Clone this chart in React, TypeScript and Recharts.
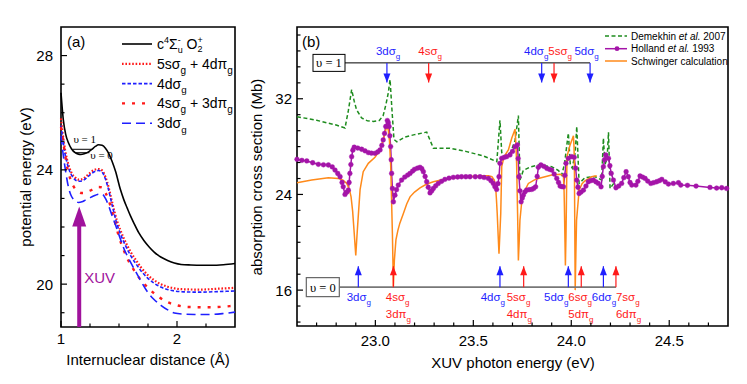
import React from "react";
import { LineChart, Line, XAxis, YAxis, ReferenceArea, ReferenceLine, ReferenceDot } from "recharts";

// ---------- panel (a): potential energy curves, [distance (Å), energy (eV)]
const ionCurve = [
  [1.0, 26.7], [1.02, 25.75], [1.04, 25.25], [1.064, 24.95], [1.09, 24.74], [1.122, 24.6], [1.15, 24.55],
  [1.17, 24.54], [1.2, 24.56], [1.237, 24.63], [1.267, 24.72], [1.296, 24.82], [1.325, 24.88], [1.354, 24.86],
  [1.383, 24.76], [1.411, 24.58], [1.44, 24.3], [1.47, 23.95], [1.513, 23.3], [1.542, 22.95], [1.571, 22.66],
  [1.6, 22.38], [1.629, 22.13], [1.67, 21.8], [1.716, 21.52], [1.76, 21.3], [1.803, 21.12], [1.86, 20.95],
  [1.919, 20.83], [1.977, 20.74], [2.035, 20.69], [2.12, 20.67], [2.209, 20.66], [2.3, 20.66], [2.4, 20.68], [2.5, 20.72],
];
const ryd5s4d = [
  [1.0, 25.8], [1.02, 25.1], [1.035, 24.7], [1.05, 24.4], [1.07, 24.1], [1.093, 23.88], [1.12, 23.74], [1.151, 23.66],
  [1.18, 23.67], [1.209, 23.74], [1.238, 23.85], [1.267, 23.95], [1.296, 24.01], [1.325, 24.03], [1.354, 23.98],
  [1.383, 23.75], [1.41, 23.4], [1.44, 22.88], [1.484, 22.2], [1.513, 21.88], [1.542, 21.6], [1.571, 21.35], [1.6, 21.13],
  [1.645, 20.85], [1.687, 20.6], [1.745, 20.33], [1.803, 20.14], [1.86, 20.0], [1.919, 19.91], [1.98, 19.85],
  [2.06, 19.82], [2.2, 19.81], [2.354, 19.84], [2.5, 19.87],
];
const ryd4d = [
  [1.0, 25.55], [1.02, 24.95], [1.035, 24.55], [1.05, 24.28], [1.07, 24.0], [1.093, 23.8], [1.12, 23.66], [1.151, 23.6],
  [1.18, 23.61], [1.209, 23.68], [1.238, 23.78], [1.267, 23.88], [1.296, 23.95], [1.325, 23.98], [1.354, 23.92],
  [1.383, 23.68], [1.41, 23.3], [1.44, 22.78], [1.484, 22.08], [1.513, 21.75], [1.542, 21.47], [1.571, 21.22], [1.6, 21.0],
  [1.645, 20.72], [1.687, 20.48], [1.745, 20.22], [1.803, 20.03], [1.86, 19.9], [1.919, 19.81], [1.98, 19.76],
  [2.06, 19.73], [2.2, 19.72], [2.354, 19.74], [2.5, 19.76],
];
const ryd4s3d = [
  [1.0, 25.5], [1.02, 24.95], [1.035, 24.54], [1.05, 24.15], [1.078, 23.71], [1.1, 23.48], [1.122, 23.34], [1.15, 23.24],
  [1.18, 23.19], [1.209, 23.2], [1.237, 23.25], [1.267, 23.3], [1.296, 23.35], [1.325, 23.4], [1.354, 23.38],
  [1.383, 23.2], [1.41, 22.95], [1.44, 22.55], [1.47, 22.1], [1.5, 21.65], [1.535, 21.25], [1.571, 20.9], [1.615, 20.58],
  [1.658, 20.31], [1.715, 20.02], [1.774, 19.78], [1.84, 19.56], [1.919, 19.37], [2.0, 19.26], [2.093, 19.2],
  [2.267, 19.19], [2.455, 19.23], [2.5, 19.25],
];
const ryd3d = [
  [1.0, 25.2], [1.02, 24.5], [1.04, 23.95], [1.064, 23.4], [1.085, 23.12], [1.107, 22.97], [1.13, 22.89], [1.15, 22.86],
  [1.18, 22.88], [1.21, 22.94], [1.24, 23.0], [1.267, 23.06], [1.296, 23.11], [1.325, 23.15], [1.354, 23.15],
  [1.383, 23.0], [1.41, 22.75], [1.44, 22.4], [1.47, 22.07], [1.506, 21.65], [1.542, 21.25], [1.585, 20.88], [1.629, 20.55],
  [1.687, 20.12], [1.745, 19.73], [1.8, 19.47], [1.861, 19.26], [1.92, 19.1], [1.977, 18.99], [2.06, 18.95],
  [2.15, 18.94], [2.29, 18.94], [2.4, 18.97], [2.5, 19.02],
];
const aXTicks = [1, 1.25, 1.5, 1.75, 2, 2.25];
const aXMajor = [1, 2];
const aYTicks = [19, 20, 21, 22, 23, 24, 25, 26, 27, 28];
const aYMajor = [20, 24, 28];

// ---------- panel (b): cross sections, [photon energy (eV), cross section (Mb)]
const demekhin = [
  [22.6, 30.5], [22.7, 30.2], [22.8, 29.8], [22.845, 29.55], [22.862, 31.0], [22.879, 32.76], [22.892, 31.8],
  [22.904, 31.08], [22.93, 30.39], [22.96, 30.15], [22.99, 30.1], [23.02, 30.18], [23.04, 30.6], [23.055, 31.6],
  [23.066, 32.5], [23.075, 33.6], [23.085, 31.0], [23.095, 28.6], [23.11, 28.4], [23.15, 28.8], [23.2, 29.0],
  [23.262, 29.21], [23.296, 27.87], [23.38, 27.87], [23.466, 27.58], [23.551, 27.22], [23.62, 26.74], [23.636, 30.2],
  [23.645, 27.5], [23.66, 27.2], [23.69, 27.5], [23.713, 28.5], [23.73, 30.6], [23.738, 25.2], [23.755, 26.0],
  [23.79, 26.3], [23.832, 26.46], [23.9, 26.32], [23.935, 26.0], [23.951, 25.62], [23.965, 26.5], [23.985, 29.13],
  [23.995, 26.5], [24.005, 26.2], [24.02, 27.5], [24.028, 29.68], [24.04, 24.92], [24.07, 25.4], [24.12, 25.5],
  [24.155, 25.2], [24.164, 28.7], [24.172, 26.5], [24.183, 27.0], [24.19, 29.2], [24.198, 24.5], [24.22, 25.0],
];
const holland = [
  [22.6, 26.94], [22.625, 26.85], [22.65, 26.8], [22.68, 26.65], [22.709, 26.52], [22.735, 26.48], [22.76, 26.46],
  [22.78, 26.3], [22.794, 26.04], [22.808, 25.75], [22.82, 25.48], [22.83, 25.0], [22.836, 24.64], [22.845, 24.0],
  [22.855, 24.2], [22.862, 24.36], [22.866, 25.0], [22.87, 25.76], [22.875, 26.5], [22.879, 27.16], [22.885, 27.7],
  [22.892, 27.95], [22.91, 27.88], [22.93, 27.78], [22.947, 27.65], [22.964, 27.5], [22.98, 27.45], [22.998, 27.44],
  [23.012, 27.55], [23.024, 27.72], [23.033, 28.1], [23.04, 28.56], [23.047, 29.1], [23.053, 29.68], [23.061, 30.18],
  [23.066, 30.0], [23.07, 29.68], [23.074, 28.9], [23.078, 28.0], [23.081, 26.9], [23.083, 25.76], [23.087, 24.5],
  [23.092, 23.38], [23.1, 23.94], [23.108, 24.4], [23.117, 24.78], [23.134, 25.2], [23.15, 25.45], [23.165, 25.62],
  [23.177, 25.76], [23.19, 25.95], [23.2, 26.1], [23.215, 26.2], [23.228, 26.27], [23.237, 26.15], [23.245, 25.9],
  [23.254, 25.5], [23.262, 25.06], [23.27, 24.6], [23.279, 24.13], [23.288, 24.3], [23.296, 24.5], [23.308, 24.72],
  [23.321, 24.92], [23.338, 25.1], [23.355, 25.26], [23.376, 25.36], [23.398, 25.43], [23.42, 25.46], [23.44, 25.48],
  [23.462, 25.48], [23.483, 25.48], [23.51, 25.48], [23.534, 25.48], [23.555, 25.42], [23.577, 25.34], [23.59, 25.15],
  [23.602, 24.92], [23.61, 24.65], [23.619, 24.42], [23.626, 24.9], [23.631, 25.48], [23.636, 26.6], [23.645, 27.02],
  [23.658, 27.1], [23.67, 27.16], [23.687, 27.3], [23.7, 27.6], [23.713, 28.0], [23.725, 28.14], [23.729, 27.0],
  [23.733, 25.48], [23.738, 24.3], [23.744, 23.38], [23.75, 23.7], [23.755, 23.94], [23.763, 24.2], [23.772, 24.36],
  [23.785, 24.4], [23.798, 24.42], [23.808, 24.5], [23.818, 24.64], [23.826, 25.5], [23.832, 26.27], [23.845, 26.46],
  [23.86, 26.35], [23.875, 26.18], [23.888, 26.1], [23.9, 26.04], [23.913, 25.7], [23.926, 25.34], [23.935, 25.0],
  [23.943, 24.7], [23.952, 24.66], [23.96, 24.64], [23.967, 25.6], [23.973, 26.6], [23.985, 27.02], [24.002, 27.16],
  [24.015, 27.1], [24.022, 26.2], [24.028, 25.2], [24.034, 24.6], [24.04, 24.08], [24.05, 24.2], [24.062, 24.36],
  [24.075, 24.7], [24.087, 25.06], [24.1, 25.15], [24.113, 25.2], [24.126, 25.05], [24.138, 24.92], [24.152, 24.64],
  [24.158, 25.5], [24.164, 26.32], [24.17, 26.9], [24.176, 27.3], [24.19, 27.02], [24.197, 26.4], [24.204, 25.76],
  [24.215, 25.2], [24.228, 24.56], [24.242, 24.7], [24.257, 24.92], [24.268, 25.4], [24.28, 25.9], [24.291, 25.48],
  [24.3, 25.0], [24.309, 24.78], [24.33, 24.78], [24.34, 25.1], [24.351, 25.54], [24.364, 25.45], [24.377, 25.34],
  [24.39, 25.12], [24.406, 24.92], [24.42, 24.98], [24.436, 25.06], [24.45, 25.15], [24.462, 25.26], [24.48, 25.05],
  [24.496, 24.87], [24.521, 24.92], [24.547, 24.98], [24.559, 24.78], [24.593, 24.76], [24.637, 24.7], [24.708, 24.59],
  [24.742, 24.53], [24.768, 24.56], [24.793, 24.5],
];
const schwinger = [
  [22.6, 24.97], [22.675, 25.2], [22.76, 25.4], [22.81, 25.34], [22.835, 25.2], [22.854, 24.92], [22.868, 24.4],
  [22.876, 23.8], [22.884, 22.6], [22.891, 21.0], [22.9, 18.9], [22.906, 20.5], [22.912, 22.0], [22.922, 24.4],
  [22.938, 25.9], [22.964, 26.6], [22.998, 27.1], [23.024, 27.72], [23.04, 28.56], [23.05, 29.2], [23.058, 29.68],
  [23.066, 29.4], [23.072, 28.5], [23.078, 26.5], [23.082, 24.0], [23.087, 20.72], [23.092, 16.3], [23.097, 18.5],
  [23.105, 20.2], [23.115, 21.0], [23.125, 21.6], [23.143, 22.4], [23.16, 23.2], [23.177, 23.8], [23.2, 24.2],
  [23.228, 24.55], [23.26, 24.85], [23.296, 25.06], [23.34, 25.22], [23.381, 25.34], [23.42, 25.42], [23.466, 25.48],
  [23.534, 25.56], [23.577, 25.56], [23.595, 25.48], [23.607, 25.2], [23.614, 24.64], [23.618, 23.6], [23.622, 22.4],
  [23.627, 20.5], [23.631, 19.04], [23.635, 20.5], [23.64, 22.4], [23.645, 26.32], [23.657, 27.16], [23.679, 27.72],
  [23.696, 28.7], [23.713, 29.46], [23.718, 28.0], [23.721, 26.6], [23.726, 22.4], [23.73, 18.48], [23.734, 20.0],
  [23.738, 21.84], [23.746, 23.2], [23.755, 24.08], [23.781, 24.92], [23.81, 25.2], [23.832, 25.34], [23.9, 25.62],
  [23.943, 25.68], [23.955, 25.6], [23.96, 25.48], [23.963, 24.5], [23.965, 22.96], [23.968, 20.0], [23.97, 18.06],
  [23.973, 20.5], [23.975, 22.96], [23.978, 27.16], [23.994, 28.14], [24.011, 28.9], [24.014, 28.0], [24.016, 26.32],
  [24.018, 21.0], [24.02, 16.0], [24.024, 19.5], [24.027, 21.84], [24.04, 24.36], [24.055, 24.9], [24.07, 25.14],
  [24.104, 25.48], [24.13, 25.56],
];
const bXTicks = [22.7, 22.8, 22.9, 23.0, 23.1, 23.2, 23.3, 23.4, 23.5, 23.6, 23.7, 23.8, 23.9, 24.0, 24.1, 24.2, 24.3, 24.4, 24.5, 24.6, 24.7];
const bXMajor = [23.0, 23.5, 24.0, 24.5];
const bYTicks = [13.33, 14.67, 16, 17.33, 18.67, 20, 21.33, 22.67, 24, 25.33, 26.67, 28, 29.33, 30.67, 32, 33.33, 34.67, 36, 37.33];
const bYMajor = [16, 24, 32];

// Rydberg levels converging to v=1 and v=0
const v1Names = ["3dσ", "4sσ", "4dσ", "5sσ", "5dσ"];
const v1Energy = [23.059, 23.272, 23.849, 23.912, 24.096];
const v0Names = ["3dσ", "4sσ", "4dσ", "5sσ", "5dσ", "6sσ", "6dσ", "7sσ"];
const v0PiNames = ["", "3dπ", "", "4dπ", "", "5dπ", "", "6dπ"];
const v0Energy = [22.913, 23.092, 23.636, 23.757, 23.985, 24.051, 24.164, 24.228];

const pts = (a: number[][]) => a.map(([x, y]) => ({ x, y }));

const BLUE = "#1f1fff";
const RED = "#ff1a1a";
const PURPLE = "#a414a8";
const GREEN = "#1e8c1e";
const ORANGE = "#ff8a1a";
const XUV = "#a0129c";
const lvlColor = (n: string) => (n.includes("dσ") ? BLUE : RED);

const sameVal = (list: number[], v: number) => list.some((m) => Math.abs(m - v) < 1e-3);

const yTick = (majors: number[], gap: number, fmt: (v: number) => string) => (p: any) => {
  const v = p.payload.value;
  const major = sameVal(majors, v);
  const ax = p.x + gap;
  return (
    <g>
      <line x1={ax} x2={ax + (major ? 6 : 3.5)} y1={p.y} y2={p.y} stroke="#000" strokeWidth={1.2} />
      {major && (
        <text x={p.x} y={p.y + 5.5} textAnchor="end" fontSize={15} fill="#000">
          {fmt(v)}
        </text>
      )}
    </g>
  );
};

const xTick = (majors: number[], gap: number, base: number, fmt: (v: number) => string) => (p: any) => {
  const v = p.payload.value;
  const major = sameVal(majors, v);
  const ay = p.y - gap;
  return (
    <g>
      <line x1={p.x} x2={p.x} y1={ay} y2={ay - (major ? 6 : 3.5)} stroke="#000" strokeWidth={1.2} />
      {major && (
        <text x={p.x} y={ay + base} textAnchor="middle" fontSize={15} fill="#000">
          {fmt(v)}
        </text>
      )}
    </g>
  );
};

const Orb = ({ x, y, main, fs, fill }: any) => (
  <text x={x} y={y} fontSize={fs} fill={fill}>
    {main}
    <tspan dy={fs * 0.32} fontSize={fs * 0.7}>g</tspan>
  </text>
);

const aSeries = [
  { key: "ion", pts: ionCurve, stroke: "#000", w: 1.6, dash: undefined },
  { key: "5s4d", pts: ryd5s4d, stroke: RED, w: 2.2, dash: "1.6 1.8" },
  { key: "4d", pts: ryd4d, stroke: BLUE, w: 1.6, dash: "3.5 2" },
  { key: "4s3d", pts: ryd4s3d, stroke: RED, w: 2.4, dash: "3 7" },
  { key: "3d", pts: ryd3d, stroke: BLUE, w: 1.6, dash: "9 5" },
];

const v1Line = 35.0;
const v1Tip = 33.35;
const v0Line = 16.25;
const v0Tip = 18.0;
const v1Dx = [-11, -10.4, -17.7, -5.7, -15.7];
const v0Dx = [-11.6, -7.6, -19.3, -17, -24.3, -13, -11.6, 0];

const PanelA = () => (
  <LineChart width={240} height={384} margin={{ top: 27, right: 5, bottom: 27, left: 21 }}>
    <XAxis type="number" dataKey="x" domain={[1, 2.5]} ticks={aXTicks} interval={0} height={30}
      tickSize={0} tickMargin={6} tickLine={false} axisLine={false} tick={xTick(aXMajor, 6, 16.5, (v) => String(v))} />
    <YAxis type="number" dataKey="y" domain={[18.5, 29]} ticks={aYTicks} interval={0} width={40}
      tickSize={0} tickMargin={8} tickLine={false} axisLine={false} tick={yTick(aYMajor, 8, (v) => String(v))} />
    {aSeries.map((s) => (
      <Line key={s.key} data={pts(s.pts)} dataKey="y" type="monotone" stroke={s.stroke} strokeWidth={s.w}
        strokeDasharray={s.dash} dot={false} isAnimationActive={false} />
    ))}
    <ReferenceLine segment={[{ x: 1.1, y: 24.72 }, { x: 1.265, y: 24.72 }]} stroke="#000" strokeWidth={1} />
    <ReferenceLine segment={[{ x: 1.12, y: 24.6 }, { x: 1.245, y: 24.6 }]} stroke="#000" strokeWidth={1} />
    <ReferenceDot x={1.107} y={24.72} shape={(p: any) => (
      <text x={p.cx} y={p.cy - 6} fontSize={11} fontFamily='"Liberation Serif", serif' fill="#000">υ = 1</text>
    )} />
    <ReferenceDot x={1.252} y={24.6} shape={(p: any) => (
      <text x={p.cx} y={p.cy + 6} fontSize={11} fontFamily='"Liberation Serif", serif' fill="#000">υ = 0</text>
    )} />
    <ReferenceLine segment={[{ x: 1.157, y: 18.5 }, { x: 1.157, y: 22.1 }]} stroke={XUV} strokeWidth={4} />
    <ReferenceDot x={1.157} y={22.72} shape={(p: any) => (
      <polygon points={`${p.cx},${p.cy} ${p.cx - 7},${p.cy + 20} ${p.cx + 7},${p.cy + 20}`} fill={XUV} />
    )} />
    <ReferenceDot x={1.2} y={20.2} shape={(p: any) => (
      <text x={p.cx} y={p.cy + 5} fontSize={15} fill={XUV}>XUV</text>
    )} />
    <ReferenceArea x1={1} x2={2.5} y1={18.5} y2={29} fill="none" stroke="#000" strokeWidth={1.6} />
  </LineChart>
);

const PanelB = () => (
  <LineChart width={507} height={384} margin={{ top: 27, right: 19, bottom: 28, left: 17 }}>
    <XAxis type="number" dataKey="x" domain={[22.6, 24.8]} ticks={bXTicks} interval={0} height={30}
      tickSize={0} tickMargin={6} tickLine={false} axisLine={false} tick={xTick(bXMajor, 6, 19.5, (v) => v.toFixed(1))} />
    <YAxis type="number" dataKey="y" domain={[13, 38]} ticks={bYTicks} interval={0} width={40}
      tickSize={0} tickMargin={5} tickLine={false} axisLine={false} tick={yTick(bYMajor, 5, (v) => String(Math.round(v)))} />
    <Line data={pts(demekhin)} dataKey="y" type="linear" stroke={GREEN} strokeWidth={1.5} strokeDasharray="4 2.5"
      dot={false} isAnimationActive={false} />
    <Line data={pts(holland)} dataKey="y" type="linear" stroke={PURPLE} strokeWidth={1.5}
      dot={{ r: 2.4, fill: PURPLE, stroke: PURPLE, strokeWidth: 0.4 }} isAnimationActive={false} />
    <Line data={pts(schwinger)} dataKey="y" type="linear" stroke={ORANGE} strokeWidth={1.5}
      dot={false} isAnimationActive={false} />

    {/* v = 1 ladder */}
    <ReferenceLine segment={[{ x: 22.845, y: v1Line }, { x: 24.096, y: v1Line }]} stroke="#000" strokeWidth={1} />
    <ReferenceDot x={22.845} y={v1Line} shape={(p: any) => (
      <g>
        <rect x={p.cx - 32} y={p.cy - 8.5} width={32} height={17} fill="#fff" stroke="#000" strokeWidth={1} />
        <text x={p.cx - 16} y={p.cy + 4.5} textAnchor="middle" fontSize={12.5} fontFamily='"Liberation Serif", serif'>υ = 1</text>
      </g>
    )} />
    {v1Energy.map((e, i) => (
      <ReferenceLine key={"v1l" + i} segment={[{ x: e, y: v1Line }, { x: e, y: v1Tip }]} stroke={lvlColor(v1Names[i])} strokeWidth={1.2} />
    ))}
    {v1Energy.map((e, i) => (
      <ReferenceDot key={"v1d" + i} x={e} y={v1Tip} shape={(p: any) => (
        <polygon points={`${p.cx},${p.cy} ${p.cx - 3.5},${p.cy - 9} ${p.cx + 3.5},${p.cy - 9}`} fill={lvlColor(v1Names[i])} />
      )} />
    ))}
    {v1Energy.map((e, i) => (
      <ReferenceDot key={"v1t" + i} x={e} y={v1Line} shape={(p: any) => (
        <Orb x={p.cx + v1Dx[i]} y={p.cy - 7.5} main={v1Names[i]} fs={11.5} fill={lvlColor(v1Names[i])} />
      )} />
    ))}

    {/* v = 0 ladder */}
    <ReferenceLine segment={[{ x: 22.816, y: v0Line }, { x: 24.228, y: v0Line }]} stroke="#777" strokeWidth={1.6} />
    <ReferenceDot x={22.816} y={v0Line} shape={(p: any) => (
      <g>
        <rect x={p.cx - 33} y={p.cy - 9.5} width={33} height={19} fill="#fff" stroke="#666" strokeWidth={1.2} />
        <text x={p.cx - 16.5} y={p.cy + 4.5} textAnchor="middle" fontSize={12.5} fontFamily='"Liberation Serif", serif'>υ = 0</text>
      </g>
    )} />
    {v0Energy.map((e, i) => (
      <ReferenceLine key={"v0l" + i} segment={[{ x: e, y: v0Line }, { x: e, y: v0Tip }]} stroke={lvlColor(v0Names[i])} strokeWidth={1.2} />
    ))}
    {v0Energy.map((e, i) => (
      <ReferenceDot key={"v0d" + i} x={e} y={v0Tip} shape={(p: any) => (
        <polygon points={`${p.cx},${p.cy} ${p.cx - 3.5},${p.cy + 9} ${p.cx + 3.5},${p.cy + 9}`} fill={lvlColor(v0Names[i])} />
      )} />
    ))}
    {v0Energy.map((e, i) => (
      <ReferenceDot key={"v0t" + i} x={e} y={v0Line} shape={(p: any) => (
        <g>
          <Orb x={p.cx + v0Dx[i]} y={p.cy + 14} main={v0Names[i]} fs={11.5} fill={lvlColor(v0Names[i])} />
          {v0PiNames[i] && <Orb x={p.cx + v0Dx[i]} y={p.cy + 31} main={v0PiNames[i]} fs={11.5} fill={RED} />}
        </g>
      )} />
    ))}
    <ReferenceArea x1={22.6} x2={24.8} y1={13} y2={38} fill="none" stroke="#000" strokeWidth={1.6} />
  </LineChart>
);

const Overlay = () => (
  <svg width={747} height={384} style={{ position: "absolute", left: 0, top: 0, pointerEvents: "none" }}>
    <text x={67} y={47} fontSize={15}>(a)</text>
    <text x={302} y={47} fontSize={15}>(b)</text>
    <text transform="translate(31,177) rotate(-90)" textAnchor="middle" fontSize={15}>potential energy (eV)</text>
    <text x={148} y={365} textAnchor="middle" fontSize={15}>Internuclear distance (Å)</text>
    <text transform="translate(262,177) rotate(-90)" textAnchor="middle" fontSize={15}>absorption cross section (Mb)</text>
    <text x={513} y={368} textAnchor="middle" fontSize={15}>XUV photon energy (eV)</text>

    {/* legend (a) */}
    {aSeries.map((s, i) => (
      <line key={s.key} x1={122} x2={152} y1={44 + i * 19.8} y2={44 + i * 19.8} stroke={s.stroke}
        strokeWidth={s.w} strokeDasharray={s.dash} />
    ))}
    <text x={157} y={49} fontSize={14}>
      c<tspan dy={-6} fontSize={9}>4</tspan>
      <tspan dy={6} fontSize={14}>Σ</tspan>
      <tspan dy={-6} fontSize={9}>-</tspan>
      <tspan dx={-3} dy={10} fontSize={9}>u</tspan>
      <tspan dy={-4} fontSize={14}>{"\u00a0O"}</tspan>
      <tspan dy={3} fontSize={9}>2</tspan>
      <tspan dx={-5} dy={-9} fontSize={9}>+</tspan>
    </text>
    <text x={157} y={69} fontSize={14}>
      5sσ<tspan dy={4.5} fontSize={10}>g</tspan>
      <tspan dy={-4.5}>{"\u00a0+\u00a04dπ"}</tspan>
      <tspan dy={4.5} fontSize={10}>g</tspan>
    </text>
    <Orb x={157} y={88.6} main="4dσ" fs={14} fill="#000" />
    <text x={157} y={108.4} fontSize={14}>
      4sσ<tspan dy={4.5} fontSize={10}>g</tspan>
      <tspan dy={-4.5}>{"\u00a0+\u00a03dπ"}</tspan>
      <tspan dy={4.5} fontSize={10}>g</tspan>
    </text>
    <Orb x={157} y={128.2} main="3dσ" fs={14} fill="#000" />

    {/* legend (b) */}
    <line x1={605} x2={627} y1={36} y2={36} stroke={GREEN} strokeWidth={1.5} strokeDasharray="4 2.5" />
    <line x1={605} x2={627} y1={48.7} y2={48.7} stroke={PURPLE} strokeWidth={1.5} />
    <circle cx={617} cy={48.7} r={2.4} fill={PURPLE} />
    <line x1={605} x2={627} y1={61} y2={61} stroke={ORANGE} strokeWidth={1.5} />
    <text x={631} y={39.5} fontSize={10}>Demekhin <tspan fontStyle="italic">et al.</tspan> 2007</text>
    <text x={631} y={52.2} fontSize={10}>Holland <tspan fontStyle="italic">et al.</tspan> 1993</text>
    <text x={631} y={64.5} fontSize={10}>Schwinger calculation</text>
  </svg>
);

export default function App() {
  return (
    <div style={{ position: "absolute", left: 0, top: 0, width: 747, height: 384, background: "#fff", overflow: "hidden",
      fontFamily: '"Liberation Sans", Arial, Helvetica, sans-serif' }}>
      <div style={{ position: "absolute", left: 0, top: 0 }}>
        <PanelA />
      </div>
      <div style={{ position: "absolute", left: 240, top: 0 }}>
        <PanelB />
      </div>
      <Overlay />
    </div>
  );
}
